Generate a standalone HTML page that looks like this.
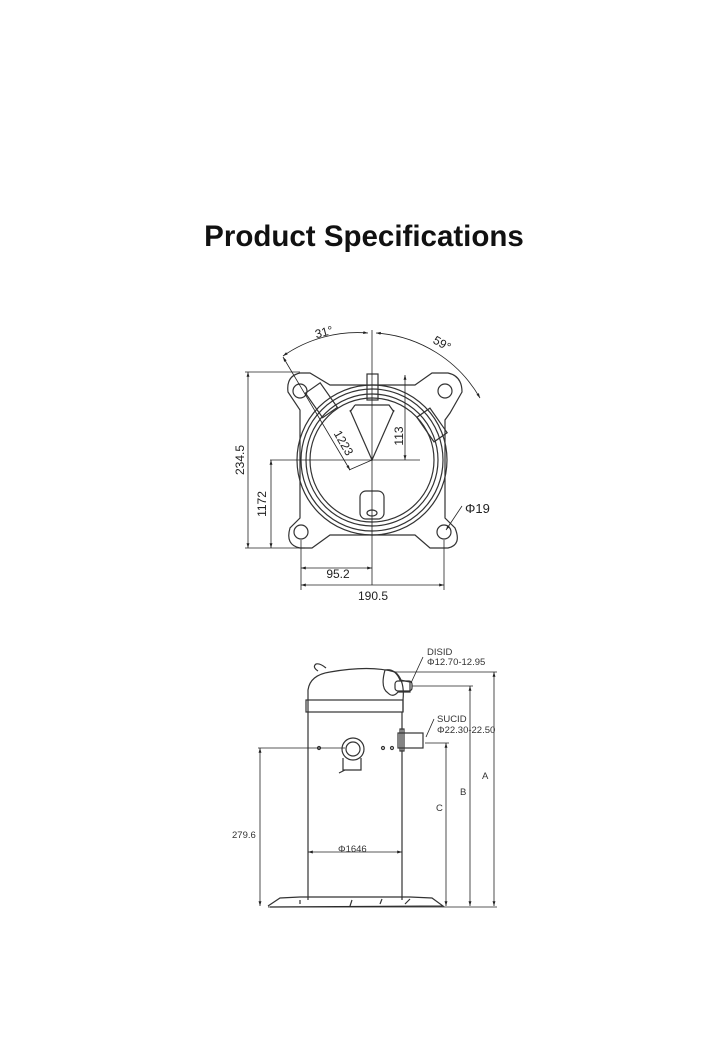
<!DOCTYPE html>
<html><head><meta charset="utf-8"><style>
html,body{margin:0;padding:0;background:#fff;width:728px;height:1046px;overflow:hidden}
svg{position:absolute;left:0;top:0}
</style></head><body>
<svg width="728" height="1046" viewBox="0 0 728 1046" font-family="Liberation Sans, sans-serif">
<defs>
<marker id="a" viewBox="0 0 10 10" refX="10" refY="5" markerWidth="6" markerHeight="6" orient="auto-start-reverse"><path d="M0,2 L10,5 L0,8z" fill="#222"/></marker>
</defs>
<text x="364" y="246" text-anchor="middle" font-size="29.5" font-weight="bold" fill="#111">Product Specifications</text>

<!-- top view -->
<g stroke="#333" stroke-width="1.2" fill="none">
<path d="M300,373 L310,373 L330,385 L415,385 L432,373 L448,373 Q462,376 462,392 L450,413 L445,420 L445,518 L455,528 Q462,545 448,548 L430,548 L415,535 L330,535 L312,548 L300,548 Q285,545 290,528 L300,518 L300,410 L288,392 Q286,376 300,373z"/>
<circle cx="300" cy="391" r="7"/><circle cx="445" cy="391" r="7"/><circle cx="301" cy="532" r="7"/><circle cx="444" cy="532" r="7"/>
<circle cx="372" cy="460" r="75"/><circle cx="372" cy="460" r="71"/><circle cx="372" cy="460" r="66"/><circle cx="372" cy="460" r="62"/>
<rect x="367" y="374" width="11" height="26"/>
<path d="M350,410 L372,460 L394,410 M355,405 L389,405 L394,412 M350,412 L355,405"/>
<rect x="312" y="386" width="18" height="30" transform="rotate(-35 320 400)"/>
<rect x="424" y="410" width="16" height="30" transform="rotate(-35 432 425)"/>
<rect x="360" y="491" width="24" height="28" rx="6"/>
<ellipse cx="372" cy="513" rx="5" ry="3"/>
</g>
<g stroke="#222" stroke-width="0.8" fill="none">
<line x1="372" y1="330" x2="372" y2="585"/>
<line x1="270" y1="460" x2="420" y2="460"/>
<line x1="245" y1="372" x2="300" y2="372"/>
<line x1="245" y1="548" x2="305" y2="548"/>
<line x1="248" y1="372" x2="248" y2="548" marker-start="url(#a)" marker-end="url(#a)"/>
<line x1="271" y1="460" x2="271" y2="548" marker-start="url(#a)" marker-end="url(#a)"/>
<line x1="301" y1="540" x2="301" y2="590"/><line x1="444" y1="540" x2="444" y2="590"/>
<line x1="301" y1="568" x2="372" y2="568" marker-start="url(#a)" marker-end="url(#a)"/>
<line x1="301" y1="585" x2="444" y2="585" marker-start="url(#a)" marker-end="url(#a)"/>
<line x1="405" y1="375" x2="405" y2="460" marker-start="url(#a)" marker-end="url(#a)"/>
<line x1="372" y1="460" x2="349" y2="470"/>
<line x1="283" y1="357" x2="350" y2="470" marker-start="url(#a)" marker-end="url(#a)"/>
<path d="M283,356 A130,130 0 0 1 368,333" marker-start="url(#a)" marker-end="url(#a)"/>
<path d="M376,333 A130,130 0 0 1 480,398" marker-start="url(#a)" marker-end="url(#a)"/>
<line x1="462" y1="506" x2="446" y2="530" marker-end="url(#a)"/>
</g>
<g font-size="12" fill="#222">
<text x="244" y="460" transform="rotate(-90 244 460)" text-anchor="middle">234.5</text>
<text x="266" y="504" transform="rotate(-90 266 504)" text-anchor="middle">1172</text>
<text x="403" y="436" transform="rotate(-90 403 436)" text-anchor="middle">113</text>
<text x="340" y="445" transform="rotate(60 340 445)" text-anchor="middle">1223</text>
<text x="338" y="578" text-anchor="middle">95.2</text>
<text x="373" y="600" text-anchor="middle">190.5</text>
<text x="465" y="513" font-size="13">Φ19</text>
<text x="325" y="336" transform="rotate(-15 325 336)" text-anchor="middle">31°</text>
<text x="440" y="347" transform="rotate(30 440 347)" text-anchor="middle">59°</text>
</g>

<!-- side view -->
<g stroke="#333" stroke-width="1.2" fill="none">
<path d="M308,712 L308,690 Q310,675 330,672 Q370,665 395,672 Q405,680 403,700 L403,712"/>
<path d="M318,671 Q312,667 316,664 Q320,663 326,668"/>
<rect x="306" y="700" width="97" height="12"/>
<line x1="308" y1="712" x2="308" y2="900"/><line x1="402" y1="712" x2="402" y2="900"/>
<path d="M385,670 Q395,668 400,680 L410,682 L410,692 L398,692 Q393,698 388,693 Q380,688 385,670"/>
<rect x="395" y="681" width="17" height="10" rx="3"/>
<rect x="398" y="733" width="25" height="15"/>
<rect x="400" y="729" width="4" height="22"/>
<circle cx="353" cy="749" r="11"/><circle cx="353" cy="749" r="7"/>
<path d="M343,758 L343,770 L361,770 L361,758 M339,773 L345,770"/>
<circle cx="319" cy="748" r="1.5"/><circle cx="383" cy="748" r="1.5"/><circle cx="392" cy="748" r="1.5"/>
<path d="M268,906 L280,898 L300,897 L410,897 L432,898 L443,906 L270,907 M300,904 L300,900 M350,906 L352,900 M380,904 L382,899 M405,904 L410,899"/>
</g>
<g stroke="#222" stroke-width="0.8" fill="none">
<line x1="258" y1="748" x2="345" y2="748"/>
<line x1="260" y1="748" x2="260" y2="906" marker-start="url(#a)" marker-end="url(#a)"/>
<line x1="268" y1="907" x2="497" y2="907"/>
<line x1="395" y1="672" x2="497" y2="672"/>
<line x1="412" y1="686" x2="473" y2="686"/>
<line x1="425" y1="743" x2="449" y2="743"/>
<line x1="494" y1="672" x2="494" y2="906" marker-start="url(#a)" marker-end="url(#a)"/>
<line x1="470" y1="686" x2="470" y2="906" marker-start="url(#a)" marker-end="url(#a)"/>
<line x1="446" y1="743" x2="446" y2="906" marker-start="url(#a)" marker-end="url(#a)"/>
<line x1="308" y1="852" x2="402" y2="852" marker-start="url(#a)" marker-end="url(#a)"/>
<line x1="423" y1="657" x2="411" y2="683"/>
<line x1="434" y1="719" x2="426" y2="737"/>
</g>
<g font-size="9.5" fill="#333">
<text x="427" y="655">DISID</text>
<text x="427" y="665">Φ12.70-12.95</text>
<text x="437" y="722">SUCID</text>
<text x="437" y="733">Φ22.30-22.50</text>
<text x="482" y="779">A</text>
<text x="460" y="795">B</text>
<text x="436" y="811">C</text>
<text x="232" y="838">279.6</text>
<text x="338" y="852">Φ1646</text>
</g>
</svg>
</body></html>
